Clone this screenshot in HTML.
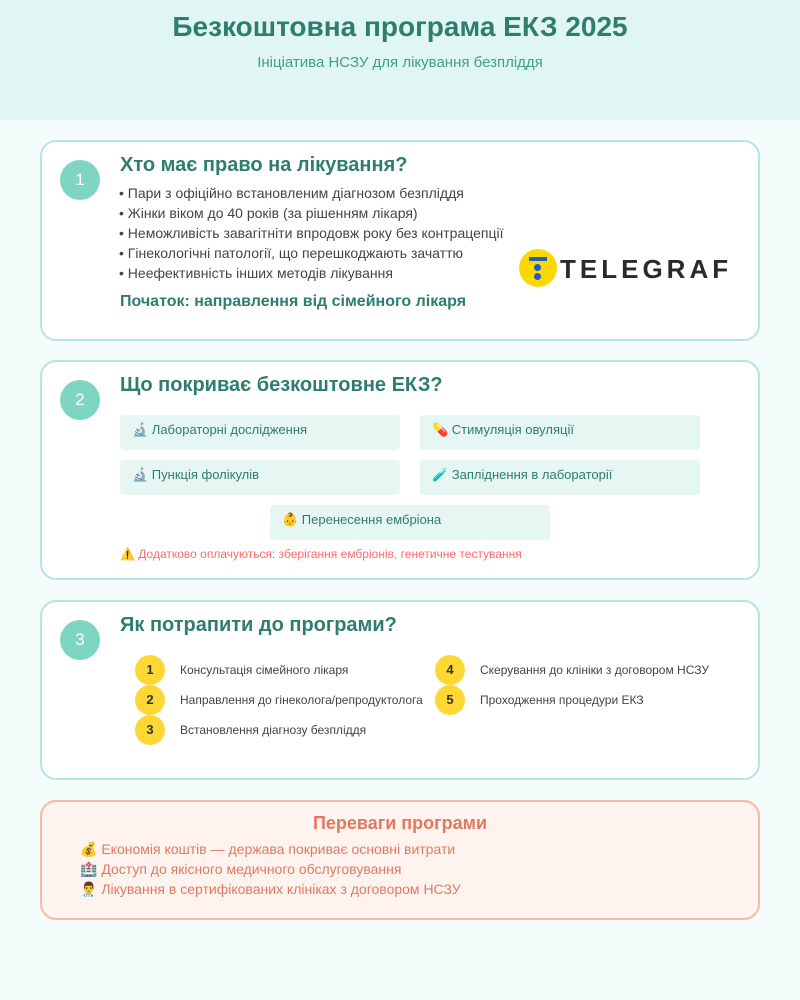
<!DOCTYPE html>
<html><head><meta charset="utf-8"><style>
*{margin:0;padding:0;box-sizing:border-box}
body{width:800px;height:1000px;background:#f5fdfc;font-family:"Liberation Sans","Noto Sans CJK SC",sans-serif;position:relative;overflow:hidden}
.a{position:absolute;white-space:nowrap}
.card{position:absolute;left:40px;width:720px;background:#fff;border:2px solid #b5e6dd;border-radius:16px}
.num{position:absolute;left:60px;width:40px;height:40px;border-radius:50%;background:#7fd5c3;color:#fff;font-size:17px;text-align:center;line-height:40px}
.h{position:absolute;left:120px;font-size:20px;font-weight:bold;color:#2e7d6e}
.li{position:absolute;left:119px;font-size:14px;color:#444}
.box{position:absolute;width:280px;height:35px;background:#e6f6f3;border-radius:4px;font-size:13px;color:#2e7d6e;line-height:30px;padding-left:12px}
.st{position:absolute;width:30px;height:30px;border-radius:50%;background:#fdd835;font-size:13px;font-weight:bold;color:#333;text-align:center;line-height:30px}
.sl{position:absolute;font-size:12px;color:#444}
.b{position:absolute;left:80px;font-size:14px;color:#e07a5f}
</style></head><body>
<div class="a" style="left:0;top:0;width:800px;height:120px;background:#e0f6f3"></div>
<div class="a" style="left:0;width:800px;top:11px;text-align:center;font-size:28px;font-weight:bold;color:#2e7d6e">Безкоштовна програма ЕКЗ 2025</div>
<div class="a" style="left:0;width:800px;top:54px;text-align:center;font-size:15px;color:#3f9e8c">Ініціатива НСЗУ для лікування безпліддя</div>

<div class="card" style="top:140px;height:201px"></div>
<div class="num" style="top:160px">1</div>
<div class="h" style="top:154px">Хто має право на лікування?</div>
<div class="li" style="top:185px">• Пари з офіційно встановленим діагнозом безпліддя</div>
<div class="li" style="top:205px">• Жінки віком до 40 років (за рішенням лікаря)</div>
<div class="li" style="top:225px">• Неможливість завагітніти впродовж року без контрацепції</div>
<div class="li" style="top:245px">• Гінекологічні патології, що перешкоджають зачаттю</div>
<div class="li" style="top:265px">• Неефективність інших методів лікування</div>
<div class="a" style="left:120px;top:293px;font-size:16px;font-weight:bold;color:#2e7d6e">Початок: направлення від сімейного лікаря</div>
<div class="a" style="left:519px;top:249px;width:38px;height:38px;border-radius:50%;background:#fcd800"></div>
<div class="a" style="left:529px;top:257px;width:18px;height:4px;background:#1f5fbf"></div>
<div class="a" style="left:534px;top:264px;width:7px;height:7px;border-radius:50%;background:#1f5fbf"></div>
<div class="a" style="left:534px;top:273px;width:7px;height:7px;border-radius:50%;background:#1f5fbf"></div>
<div class="a" style="left:560px;top:254px;font-size:26px;font-weight:bold;color:#2a2a2a;letter-spacing:4px">TELEGRAF</div>

<div class="card" style="top:360px;height:220px"></div>
<div class="num" style="top:380px">2</div>
<div class="h" style="top:374px">Що покриває безкоштовне ЕКЗ?</div>
<div class="box" style="left:120px;top:415px">🔬 Лабораторні дослідження</div>
<div class="box" style="left:420px;top:415px">💊 Стимуляція овуляції</div>
<div class="box" style="left:120px;top:460px">🔬 Пункція фолікулів</div>
<div class="box" style="left:420px;top:460px">🧪 Запліднення в лабораторії</div>
<div class="box" style="left:270px;top:505px">👶 Перенесення ембріона</div>
<div class="a" style="left:120px;top:547px;font-size:12px;color:#ff6b6b">⚠️ Додатково оплачуються: зберігання ембріонів, генетичне тестування</div>

<div class="card" style="top:600px;height:180px"></div>
<div class="num" style="top:620px">3</div>
<div class="h" style="top:614px">Як потрапити до програми?</div>
<div class="st" style="left:135px;top:655px">1</div><div class="sl" style="left:180px;top:663px">Консультація сімейного лікаря</div>
<div class="st" style="left:135px;top:685px">2</div><div class="sl" style="left:180px;top:693px">Направлення до гінеколога/репродуктолога</div>
<div class="st" style="left:135px;top:715px">3</div><div class="sl" style="left:180px;top:723px">Встановлення діагнозу безпліддя</div>
<div class="st" style="left:435px;top:655px">4</div><div class="sl" style="left:480px;top:663px">Скерування до клініки з договором НСЗУ</div>
<div class="st" style="left:435px;top:685px">5</div><div class="sl" style="left:480px;top:693px">Проходження процедури ЕКЗ</div>

<div class="card" style="top:800px;height:120px;background:#fff3ef;border-color:#f6b9a3"></div>
<div class="a" style="left:0;width:800px;top:813px;text-align:center;font-size:18px;font-weight:bold;color:#e07a5f">Переваги програми</div>
<div class="b" style="top:841px">💰 Економія коштів — держава покриває основні витрати</div>
<div class="b" style="top:861px">🏥 Доступ до якісного медичного обслуговування</div>
<div class="b" style="top:881px">👨‍⚕️ Лікування в сертифікованих клініках з договором НСЗУ</div>
</body></html>
